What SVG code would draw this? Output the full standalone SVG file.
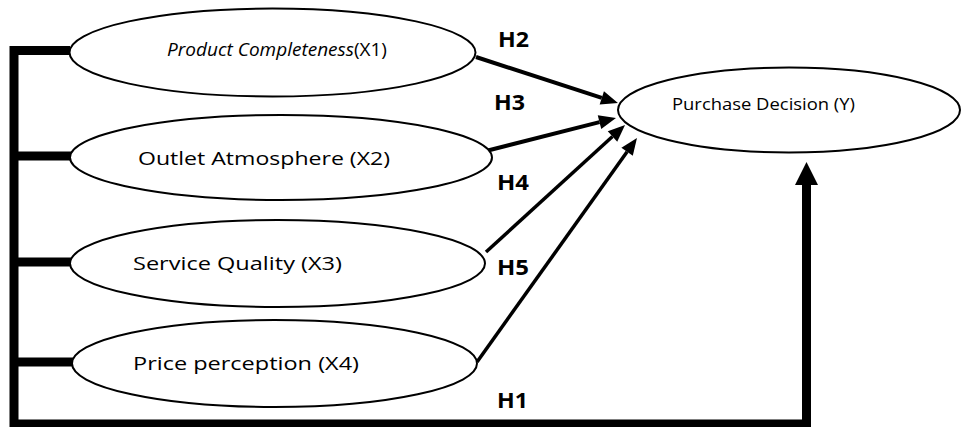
<svg xmlns="http://www.w3.org/2000/svg" width="962" height="427" viewBox="0 0 962 427">
  <style>
    .node ellipse { fill: #ffffff; stroke: #000000; stroke-width: 2; }
    .lbl { font-family: "Open Sans", "Liberation Sans", sans-serif; font-size: 18px; fill: #000000; }
    .lblY { font-family: "Open Sans", "Liberation Sans", sans-serif; font-size: 16px; fill: #000000; }
    .h { font-family: "Open Sans", "Liberation Sans", sans-serif; font-size: 21px; font-weight: bold; fill: #000000; }
    .thick { fill: none; stroke: #000000; stroke-width: 9; stroke-linejoin: miter; }
    .arr { stroke: #000000; fill: none; }
  </style>
  <defs>
    <marker id="ah" markerUnits="userSpaceOnUse" markerWidth="20" markerHeight="20" refX="0" refY="0" orient="auto" overflow="visible">
      <path d="M0,-7 L17,0 L0,7 z" fill="#000000"/>
    </marker>
    <marker id="ahBig" markerUnits="userSpaceOnUse" markerWidth="30" markerHeight="30" refX="0" refY="0" orient="auto" overflow="visible">
      <path d="M0,-11.5 L23,0 L0,11.5 z" fill="#000000"/>
    </marker>
  </defs>
  <rect width="962" height="427" fill="#ffffff"/>

  <g id="connectors">
    <path class="thick" d="M70,50.5 H14 V424 H806.5 V185" marker-end="url(#ahBig)"/>
    <line class="thick" x1="14" y1="156" x2="72" y2="156"/>
    <line class="thick" x1="14" y1="262" x2="72" y2="262"/>
    <line class="thick" x1="14" y1="362" x2="74" y2="362"/>
    <line class="arr" stroke-width="4" x1="476" y1="57" x2="601.8" y2="97.8" marker-end="url(#ah)"/>
    <line class="arr" stroke-width="4" x1="486" y1="151" x2="599.5" y2="122.1" marker-end="url(#ah)"/>
    <line class="arr" stroke-width="3.5" x1="486" y1="252" x2="612.5" y2="136.5" marker-end="url(#ah)"/>
    <line class="arr" stroke-width="3.5" x1="477" y1="362" x2="627.1" y2="151.8" marker-end="url(#ah)"/>
  </g>

  <g id="node-x1" class="node">
    <ellipse cx="272.5" cy="52.5" rx="203" ry="44"/>
    <text class="lbl" x="167" y="56" textLength="220" lengthAdjust="spacingAndGlyphs"><tspan font-style="italic">Product Completeness</tspan>(X1)</text>
  </g>
  <g id="node-x2" class="node">
    <ellipse cx="281" cy="157.5" rx="211" ry="42.5"/>
    <text class="lbl" x="138" y="165" textLength="252" lengthAdjust="spacingAndGlyphs">Outlet Atmosphere (X2)</text>
  </g>
  <g id="node-x3" class="node">
    <ellipse cx="277.5" cy="263.5" rx="207.5" ry="43.5"/>
    <text class="lbl" x="133" y="270" textLength="209" lengthAdjust="spacingAndGlyphs">Service Quality (X3)</text>
  </g>
  <g id="node-x4" class="node">
    <ellipse cx="274.5" cy="363.5" rx="202.5" ry="43.5"/>
    <text class="lbl" x="133" y="370" textLength="226" lengthAdjust="spacingAndGlyphs">Price perception (X4)</text>
  </g>
  <g id="node-y" class="node">
    <ellipse cx="789" cy="110" rx="171" ry="42.5"/>
    <text class="lblY" x="672" y="110" textLength="183" lengthAdjust="spacingAndGlyphs">Purchase Decision (Y)</text>
  </g>

  <g id="labels">
    <text class="h" x="498" y="47" textLength="31" lengthAdjust="spacingAndGlyphs">H2</text>
    <text class="h" x="494" y="110" textLength="31" lengthAdjust="spacingAndGlyphs">H3</text>
    <text class="h" x="497" y="190" textLength="32" lengthAdjust="spacingAndGlyphs">H4</text>
    <text class="h" x="497" y="275" textLength="32" lengthAdjust="spacingAndGlyphs">H5</text>
    <text class="h" x="497" y="408" textLength="31" lengthAdjust="spacingAndGlyphs">H1</text>
  </g>
</svg>
